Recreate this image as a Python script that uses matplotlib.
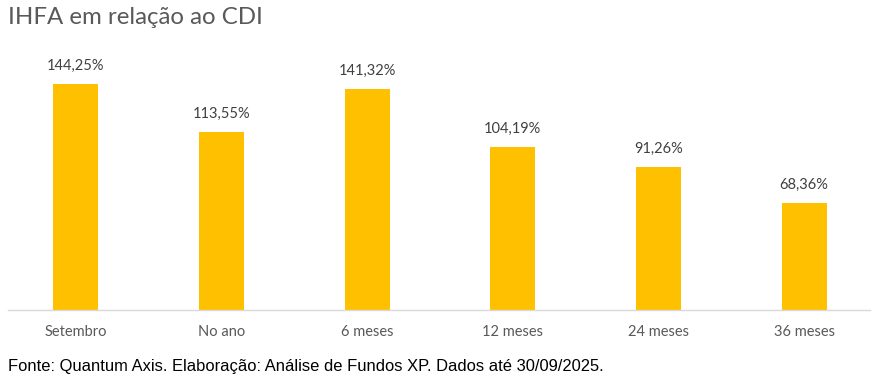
import matplotlib
matplotlib.use("Agg")
import matplotlib.pyplot as plt

categories = ["Setembro", "No ano", "6 meses", "12 meses", "24 meses", "36 meses"]
values = [144.25, 113.55, 141.32, 104.19, 91.26, 68.36]
labels = ["144,25%", "113,55%", "141,32%", "104,19%", "91,26%", "68,36%"]
title = "IHFA em relação ao CDI"
footnote = "Fonte: Quantum Axis. Elaboração: Análise de Fundos XP. Dados até 30/09/2025."

W, H = 886, 381
fig = plt.figure(figsize=(W / 100, H / 100), dpi=100)
fig.patch.set_facecolor("white")

ax_left, ax_right = 3, 877
base_y = 310
ymax = 160
px_per = (310 - 84) / 144.25
ax_h = ymax * px_per
ax = fig.add_axes([ax_left / W, (H - base_y) / H, (ax_right - ax_left) / W, ax_h / H])

x = list(range(len(categories)))
slot = (ax_right - ax_left) / len(categories)
bw = 45 / slot
ax.bar(x, values, width=bw, color="#FFC000", zorder=2)
ax.set_xlim(-0.5, len(categories) - 0.5)
ax.set_ylim(0, ymax)

for xi, v, lab in zip(x, values, labels):
    ax.annotate(lab, (xi, v), xytext=(0, 8), textcoords="offset points",
                ha="center", va="bottom", fontsize=10.5, color="#404040",
                family="Lato")

ax.set_xticks(x)
ax.set_xticklabels(categories, fontsize=10.5, color="#595959", family="Lato")
ax.tick_params(axis="x", length=0, pad=11)
ax.set_yticks([])
for s in ["top", "right", "left"]:
    ax.spines[s].set_visible(False)
ax.spines["bottom"].set_color("#D9D9D9")
ax.spines["bottom"].set_linewidth(1.0)
ax.spines["bottom"].set_bounds(-0.5 + 5 / slot, len(categories) - 0.5 - 7 / slot)

fig.text(8 / W, 1 - 18 / H, title, fontsize=17.3, color="#595959",
         family="Lato", ha="left", va="center")
fig.text(8 / W, 1 - 366 / H, footnote, fontsize=11.9, color="#000000",
         family="Liberation Sans", ha="left", va="center")

fig.savefig("out.png", dpi=100, facecolor="white")
